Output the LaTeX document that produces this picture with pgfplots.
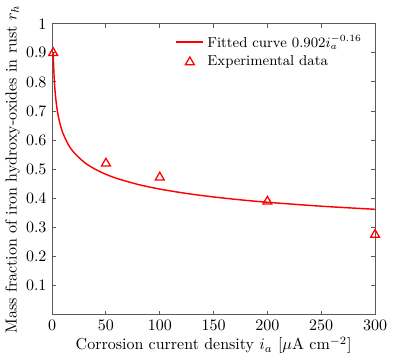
\documentclass[border=0pt]{standalone}
\usepackage{pgfplots}
\pgfplotsset{compat=1.18}

\definecolor{axgray}{RGB}{90,90,90}

\begin{document}
\begin{tikzpicture}
  \begin{axis}[
    width=202pt, height=182pt,
    scale only axis,
    xmin=0, xmax=300,
    ymin=0, ymax=1,
    xtick={0,50,100,150,200,250,300},
    ytick={0.1,0.2,0.3,0.4,0.5,0.6,0.7,0.8,0.9,1},
    yticklabels={0.1,0.2,0.3,0.4,0.5,0.6,0.7,0.8,0.9,1},
    tick align=inside,
    major tick length=2.5pt,
    axis line style={axgray, line width=0.6pt},
    tick style={axgray, line width=0.6pt},
    xlabel={Corrosion current density $i_a$ [$\mu$A cm$^{-2}$]},
    ylabel={Mass fraction of iron hydroxy-oxides in rust $r_h$},
    xlabel style={yshift=3pt},
    ylabel style={yshift=-3pt},
    legend style={draw=none, fill=none, at={(0.985,0.985)}, anchor=north east,
      cells={anchor=west}, row sep=0pt, font=\small},
    legend cell align=left,
    clip=false,
  ]

  % fitted curve, values tabulated from 0.902 i^-0.16
  \addplot[red, line width=0.9pt, smooth, no marks]
    coordinates {
      (1,0.902)(1.2,0.8761)(1.5,0.8454)(2,0.8073)(2.5,0.7790)(3,0.7566)
      (4,0.7226)(5,0.6972)(7,0.6607)(10,0.6240)(15,0.5849)(20,0.5585)
      (30,0.5234)(40,0.4999)(50,0.4824)(60,0.4685)(80,0.4474)(100,0.4317)
      (125,0.4166)(150,0.4046)(175,0.3947)(200,0.3864)(250,0.3729)(300,0.3622)
    };
  \addlegendentry{Fitted curve $0.902i_a^{-0.16}$}

  \addplot[red, only marks, mark=triangle, mark size=3.2pt, line width=0.8pt]
    coordinates {
      (1,0.90)(50,0.52)(100,0.472)(200,0.389)(300,0.275)
    };
  \addlegendentry{Experimental data}

  \end{axis}
  % white margin on the right, as in the reference
  \path ([xshift=25pt]current axis.east);
\end{tikzpicture}
\end{document}
